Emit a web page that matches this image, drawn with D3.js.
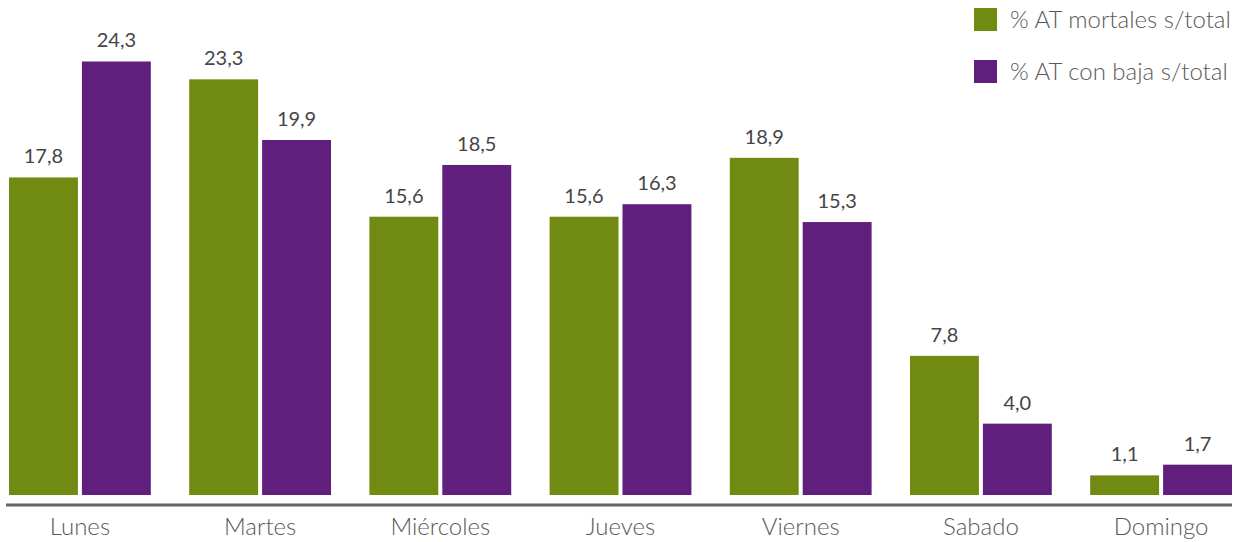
<!DOCTYPE html>
<html><head><meta charset="utf-8">
<script src="https://cdn.jsdelivr.net/npm/d3@7"></script>
<style>
html,body{margin:0;padding:0;background:#fff;}
svg{display:block;font-family:Lato,"Open Sans",sans-serif;}
</style></head>
<body>
<svg id="chart" width="1240" height="542"></svg>
<script>
const categories = ["Lunes","Martes","Miércoles","Jueves","Viernes","Sabado","Domingo"];
const seriesNames = ["% AT mortales s/total","% AT con baja s/total"];
const mortales = [17.8,23.3,15.6,15.6,18.9,7.8,1.1];
const conBaja = [24.3,19.9,18.5,16.3,15.3,4.0,1.7];
const colors = ["#718A12","#601F7D"];

const svg = d3.select("#chart");
const baseline = 495;
const x0 = d3.scaleBand().domain(categories).range([9, 1232]).paddingInner(0.213).paddingOuter(0);
const x1 = d3.scaleBand().domain([0,1]).range([0, x0.bandwidth()]).paddingInner(0.055);
const y = d3.scaleLinear().domain([0, 25]).range([baseline, baseline - 25*17.84]);

const series = [mortales, conBaja];
const fmt = v => d3.format(".1f")(v).replace(".", ",");

series.forEach((vals, si) => {
  const g = svg.append("g");
  g.selectAll("rect").data(vals).join("rect")
    .attr("x", (d,i) => x0(categories[i]) + x1(si))
    .attr("y", d => y(d))
    .attr("width", x1.bandwidth())
    .attr("height", d => baseline - y(d))
    .attr("fill", colors[si]);
  g.selectAll("text").data(vals).join("text")
    .attr("x", (d,i) => x0(categories[i]) + x1(si) + x1.bandwidth()/2)
    .attr("y", d => y(d) - 14)
    .attr("text-anchor", "middle")
    .attr("font-size", 20)
    .attr("fill", "#454545")
    .text(d => fmt(d));
});

// x axis
const axis = svg.append("g").attr("transform", `translate(0,${baseline+10})`)
  .call(d3.axisBottom(x0).tickSize(0).tickPadding(13));
axis.select(".domain").attr("d", "M6,0H1232").attr("stroke", "#666").attr("stroke-width", 3);
axis.selectAll("text").attr("font-size", 24).attr("font-weight", 300)
  .attr("fill", "#595959").attr("font-family", "Lato, 'Open Sans', sans-serif");

// legend
const leg = svg.append("g");
seriesNames.forEach((n, i) => {
  const yy = 8 + i*52;
  leg.append("rect").attr("x", 974).attr("y", yy).attr("width", 23).attr("height", 23).attr("fill", colors[i]);
  leg.append("text").attr("x", 1010).attr("y", yy + 20).attr("font-size", 24).attr("font-weight", 300)
    .attr("fill", "#595959").text(n);
});
</script>
</body></html>
